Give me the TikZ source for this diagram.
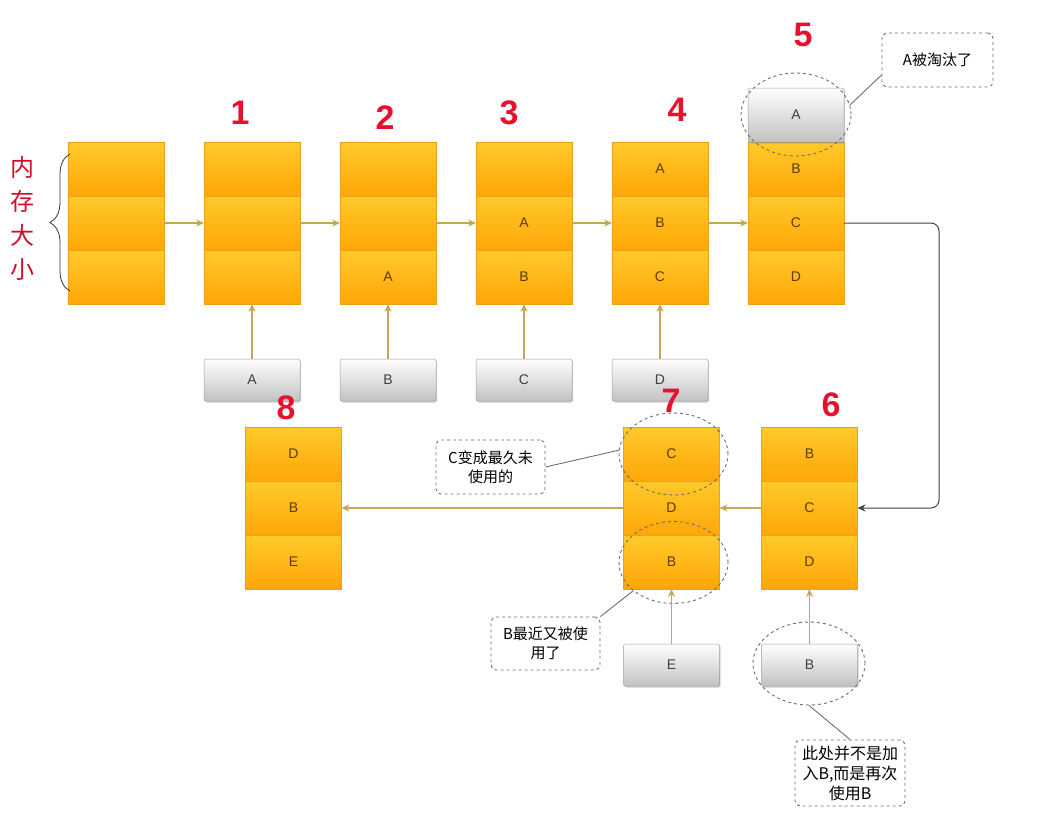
\documentclass[tikz,border=0pt]{standalone}
\usepackage{fontspec}
\setmainfont{Liberation Sans}
\newfontfamily\cjk{Noto Sans CJK SC}
\usetikzlibrary{positioning, shapes, arrows.meta, shadows, decorations.pathreplacing}

\definecolor{celltop}{HTML}{FFCA2A}
\definecolor{cellbot}{HTML}{FFA608}
\definecolor{celledge}{HTML}{E9A21C}
\definecolor{celltext}{HTML}{5E3B00}
\definecolor{keybot}{HTML}{C2C2C2}
\definecolor{keyedge}{HTML}{9C9C9C}
\definecolor{feedcol}{HTML}{C4A853}
\definecolor{stepred}{HTML}{E8112D}
\definecolor{notegray}{HTML}{6E6E6E}

\begin{document}
\begin{tikzpicture}[
    x=1pt, y=-1pt,
    cell/.style={rectangle, minimum width=96pt, minimum height=54pt, inner sep=0pt, outer sep=0pt,
        top color=celltop, bottom color=cellbot, draw=celledge, line width=0.4pt,
        text=celltext, font=\fontsize{14}{14}\selectfont},
    key/.style={rectangle, rounded corners=2pt, minimum width=96pt, minimum height=42pt, inner sep=0pt, outer sep=0pt,
        top color=white, bottom color=keybot, draw=keyedge, line width=0.5pt,
        drop shadow={opacity=0.35, shadow xshift=1.2pt, shadow yshift=-1.5pt},
        text=black!75, font=\fontsize{14}{14}\selectfont},
    stepnum/.style={text=stepred, font=\fontsize{34}{34}\selectfont\bfseries},
    ring/.style={ellipse, draw=notegray, dashed, line width=0.9pt, inner sep=0pt},
    note/.style={rectangle, rounded corners=5pt, draw=notegray, dashed, line width=0.9pt, fill=white,
        align=center, inner sep=2pt, font=\cjk\fontsize{15}{19}\selectfont},
    feed/.style={-{Stealth[length=8pt, width=7pt]}, draw=feedcol, line width=1.2pt},
    back/.style={-{Stealth[length=8pt, width=7pt]}, draw=black!75, line width=1pt, rounded corners=8pt},
    tie/.style={draw=notegray, line width=0.9pt},
    node distance=40pt and 40pt
]
\useasboundingbox (0,0) rectangle (1044,820);

% --- memory column ---
\node[cell] (c0b) at (116,223) {};
\node[cell, above=0pt of c0b] (c0a) {};
\node[cell, below=0pt of c0b] (c0c) {};
\draw[decorate, decoration={brace, amplitude=20pt, aspect=0.5}, line width=0.8pt, black!80]
    (70,291) -- (70,154);
\node[text=stepred!90!black, align=center, font=\cjk\fontsize{24}{34}\selectfont] (memsize) at (22,218) {内\\存\\大\\小};

% --- step 1 ---
\node[cell, right=of c0b] (c1b) {};
\node[cell, above=0pt of c1b] (c1a) {};
\node[cell, below=0pt of c1b] (c1c) {};
\node[key, below=55pt of c1c] (k1) {A};

% --- step 2 ---
\node[cell, right=of c1b] (c2b) {};
\node[cell, above=0pt of c2b] (c2a) {};
\node[cell, below=0pt of c2b] (c2c) {A};
\node[key, below=55pt of c2c] (k2) {B};

% --- step 3 ---
\node[cell, right=of c2b] (c3b) {A};
\node[cell, above=0pt of c3b] (c3a) {};
\node[cell, below=0pt of c3b] (c3c) {B};
\node[key, below=55pt of c3c] (k3) {C};

% --- step 4 ---
\node[cell, right=of c3b] (c4b) {B};
\node[cell, above=0pt of c4b] (c4a) {A};
\node[cell, below=0pt of c4b] (c4c) {C};
\node[key, below=55pt of c4c] (k4) {D};

% --- step 5: A drops out ---
\node[cell, right=of c4b] (c5b) {C};
\node[cell, above=0pt of c5b] (c5a) {B};
\node[cell, below=0pt of c5b] (c5c) {D};
\node[key, minimum height=54pt, above=0pt of c5a] (k5) {A};
\node[ring, minimum width=110pt, minimum height=83pt] (ra) at (796,114.5) {};
\node[note, minimum width=111pt, minimum height=54pt] (na) at (937.5,60) {A被淘汰了};

% --- step 6 ---
\node[cell] (c6b) at (809.5,508) {C};
\node[cell, above=0pt of c6b] (c6a) {B};
\node[cell, below=0pt of c6b] (c6c) {D};
\node[key, below=55pt of c6c] (kb) {B};
\node[ring, minimum width=112pt, minimum height=83pt] (rk) at (809,663.5) {};
\node[note, minimum width=110pt, minimum height=66pt, font=\cjk\fontsize{16}{20}\selectfont] (nk) at (850,773) {此处并不是加\\入B,而是再次\\使用B};

% --- step 7 ---
\node[cell, left=42pt of c6b] (c7b) {D};
\node[cell, above=0pt of c7b] (c7a) {C};
\node[cell, below=0pt of c7b] (c7c) {B};
\node[key, below=55pt of c7c] (ke) {E};
\node[ring, minimum width=109pt, minimum height=82pt] (rc) at (673.5,454) {};
\node[ring, minimum width=109pt, minimum height=82pt] (rb) at (673.5,562.5) {};
\node[note, minimum width=109pt, minimum height=54pt] (nc) at (490.5,467) {C变成最久未\\使用的};
\node[note, minimum width=109pt, minimum height=53pt] (nb) at (545.5,643.5) {B最近又被使\\用了};

% --- step 8 ---
\node[cell, left=282pt of c7b] (c8b) {B};
\node[cell, above=0pt of c8b] (c8a) {D};
\node[cell, below=0pt of c8b] (c8c) {E};

% --- step numbers ---
\node[stepnum] (n1) at (240,113) {1};
\node[stepnum] (n2) at (385,118) {2};
\node[stepnum] (n3) at (509,113) {3};
\node[stepnum] (n4) at (677,110) {4};
\node[stepnum] (n5) at (803,35) {5};
\node[stepnum] (n6) at (831,405) {6};
\node[stepnum] (n7) at (671,401) {7};
\node[stepnum] (n8) at (286,408) {8};

% --- arrows ---
\draw[feed] (c0b) -- (c1b);
\draw[feed] (c1b) -- (c2b);
\draw[feed] (c2b) -- (c3b);
\draw[feed] (c3b) -- (c4b);
\draw[feed] (c4b) -- (c5b);
\draw[feed] (k1) -- (c1c);
\draw[feed] (k2) -- (c2c);
\draw[feed] (k3) -- (c3c);
\draw[feed] (k4) -- (c4c);
\draw[back] (c5b.east) -- ++(95,0) |- (c6b.east);
\draw[feed] (c6b) -- (c7b);
\draw[feed] (c7b) -- (c8b);
\draw[feed] (ke) -- (c7c);
\draw[feed] (kb) -- (c6c);

% callout ties
\draw[tie] (ra.10) -- (na.195);
\draw[tie] (nc.east) -- (rc.176);
\draw[tie] (nb.north east) -- (rb.215);
\draw[tie] (rk.south) -- (nk.north);

\end{tikzpicture}
\end{document}
